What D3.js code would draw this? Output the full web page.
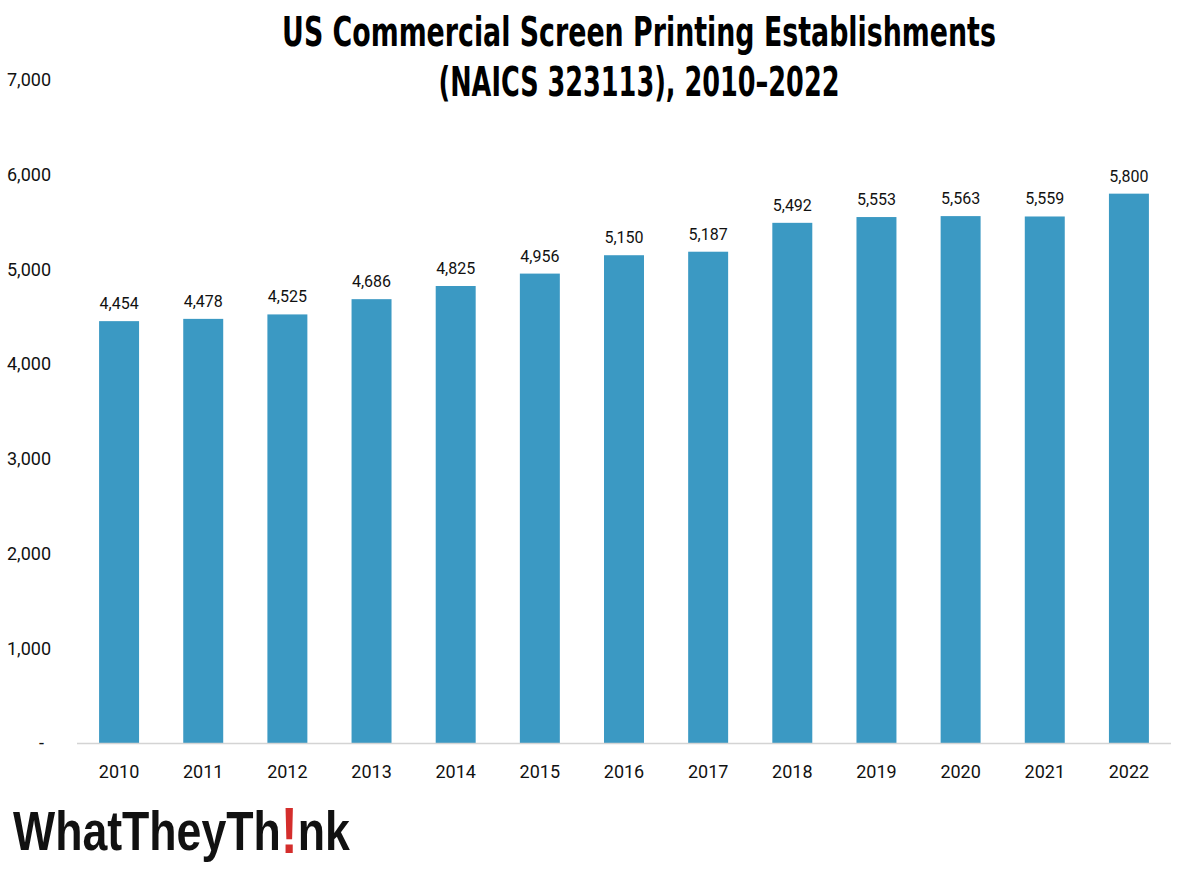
<!DOCTYPE html>
<html><head><meta charset="utf-8">
<script src="https://cdn.jsdelivr.net/npm/d3@7"></script>
<style>body{margin:0;background:#fff}svg{display:block}</style>
</head><body>
<svg id="c" width="1200" height="872"></svg>
<script>
const years = ["2010","2011","2012","2013","2014","2015","2016","2017","2018","2019","2020","2021","2022"];
const establishments = [4454,4478,4525,4686,4825,4956,5150,5187,5492,5553,5563,5559,5800];
const yTicks = [0,1000,2000,3000,4000,5000,6000,7000];
const titleLines = ["US Commercial Screen Printing Establishments","(NAICS 323113), 2010–2022"];
const titleWidths = [714,401];

const svg = d3.select("#c");
const x = d3.scaleBand().domain(years).range([77,1171]).paddingInner(0.525).paddingOuter(0.2625);
const y = d3.scaleLinear().domain([0,7000]).range([743,80]);
const fmt = d3.format(",");
const lab = "Roboto, 'Liberation Sans Narrow', sans-serif";

// title (horizontally condensed to match the reference width)
titleLines.forEach((t,i)=>{
  const g = svg.append("g");
  const tx = g.append("text").attr("x",0).attr("y",0)
    .attr("text-anchor","middle")
    .attr("font-family","'DejaVu Sans Condensed','Liberation Sans Narrow',sans-serif")
    .attr("font-weight","bold").attr("font-size",41)
    .attr("fill","#000").text(t);
  const w = tx.node().getComputedTextLength();
  g.attr("transform",`translate(639,${46+i*50}) scale(${titleWidths[i]/w},1)`);
});

// y labels
const yg = svg.append("g");
yTicks.forEach(t=>{
  if(t===0){
    yg.append("text").attr("x",44).attr("y",y(t)).attr("dy","0.35em").attr("text-anchor","end")
      .attr("font-family",lab).attr("font-size",18).attr("fill","#111").text("-");
  } else {
    yg.append("text").attr("x",7).attr("y",y(t)).attr("dy","0.35em")
      .attr("font-family",lab).attr("font-size",18).attr("fill","#111").text(fmt(t));
  }
});

// bars
svg.selectAll("rect.bar").data(years).join("rect")
  .attr("x",d=>x(d)).attr("width",x.bandwidth())
  .attr("y",(d,i)=>y(establishments[i])).attr("height",(d,i)=>y(0)-y(establishments[i]))
  .attr("fill","#3b99c3");

// baseline
svg.append("line").attr("x1",77).attr("x2",1171).attr("y1",y(0)+0.5).attr("y2",y(0)+0.5)
  .attr("stroke","#d4d4d4").attr("stroke-width",1.5);

// value labels
svg.selectAll("text.val").data(years).join("text")
  .attr("x",d=>x(d)+x.bandwidth()/2).attr("y",(d,i)=>y(establishments[i])-12)
  .attr("text-anchor","middle").attr("font-family",lab).attr("font-size",16).attr("fill","#111")
  .text((d,i)=>fmt(establishments[i]));

// x labels
svg.selectAll("text.xl").data(years).join("text")
  .attr("x",d=>x(d)+x.bandwidth()/2).attr("y",778)
  .attr("text-anchor","middle").attr("font-family",lab).attr("font-size",18).attr("fill","#111")
  .text(d=>d);

// logo: single text with a red exclamation mark
const lg = svg.append("g");
const lt = lg.append("text").attr("x",0).attr("y",0)
  .attr("font-family","'Liberation Sans','Arial',sans-serif").attr("font-weight","bold").attr("font-size",56)
  .attr("fill","#111");
lt.append("tspan").text("WhatTheyTh");
lt.append("tspan").attr("fill","#d42e2c").attr("font-size",64).attr("dy",3).text("!");
lt.append("tspan").attr("dy",-3).text("nk");
const lw = lt.node().getComputedTextLength();
lg.attr("transform",`translate(13,850) scale(${337/lw},1)`);
</script>
</body></html>
